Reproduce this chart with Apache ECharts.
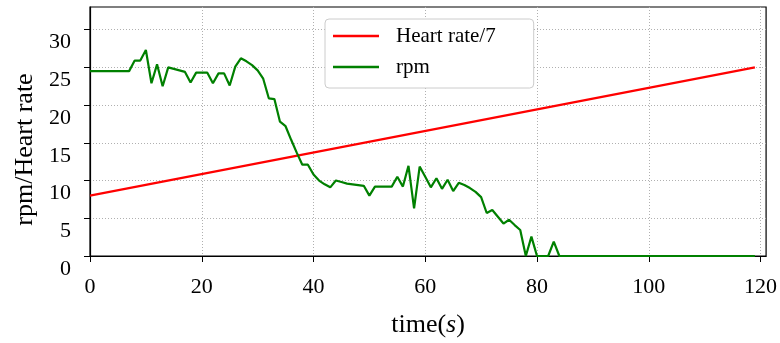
<!DOCTYPE html>
<html>
<head>
<meta charset="utf-8">
<script src="https://cdn.jsdelivr.net/npm/echarts@6/dist/echarts.min.js"></script>
<style>html,body{margin:0;padding:0;background:#fff}#c{width:780px;height:343px}</style>
</head>
<body>
<div id="c"></div>
<script>
const rpmTime = [0,1,2,3,4,5,6,7,8,9,10,11,12,13,14,15,16,17,18,19,20,21,22,23,24,25,26,27,28,29,30,31,32,33,34,35,36,37,38,39,40,41,42,43,44,45,46,47,48,49,50,51,52,53,54,55,56,57,58,59,60,61,62,63,64,65,66,67,68,69,70,71,72,73,74,75,76,77,78,79,80,81,82,83,84,119];
const rpmValues = [24.5,24.5,24.5,24.5,24.5,24.5,24.5,24.5,25.9,25.9,27.3,22.9,25.4,22.5,25.0,24.8,24.6,24.4,23.0,24.3,24.3,24.3,22.9,24.2,24.2,22.6,25.1,26.2,25.8,25.3,24.6,23.5,20.9,20.8,17.8,17.2,15.4,13.7,12.1,12.1,10.8,10.0,9.5,9.1,10.0,9.8,9.6,9.5,9.4,9.3,8.0,9.2,9.2,9.2,9.2,10.5,9.2,11.95,6.3,11.85,10.5,9.1,10.3,8.9,10.1,8.6,9.7,9.4,9.0,8.5,7.8,5.7,6.1,5.2,4.3,4.8,4.1,3.45,0,2.57,0,0,0,1.9,0,0];
const hrTime = [0,119];
const hrValues = [8,25];
const xTicks = [0,20,40,60,80,100,120];
const yTicks = [0,5,10,15,20,25,30];
const seriesNames = ['Heart rate/7','rpm'];

const FONT = '"Liberation Serif","DejaVu Serif",serif';
const chart = echarts.init(document.getElementById('c'), null, {renderer:'canvas'});
const grid = {type:[1,2], color:'#b0b0b0', width:1};
chart.setOption({
  animation:false,
  backgroundColor:'#fff',
  grid:{left:90,right:11,top:7,bottom:87,show:true,borderColor:'#000',borderWidth:1.2,backgroundColor:'transparent'},
  legend:{
    left:325, top:19, orient:'vertical',
    data:seriesNames.map(n=>({name:n,icon:'rect'})),
    itemWidth:46, itemHeight:2.5, itemGap:3,
    padding:[3,38,7,8],
    borderColor:'#cccccc', borderWidth:1, borderRadius:4, backgroundColor:'#fff',
    textStyle:{fontFamily:FONT,fontSize:21,color:'#000',lineHeight:22,padding:[6,0,0,12]}
  },
  xAxis:{
    type:'value', min:0, max:121,
    name:'{a|time(}{b|s}{a|)}', nameLocation:'middle', nameGap:56,
    nameTextStyle:{rich:{a:{fontFamily:FONT,fontSize:26,color:'#000'},b:{fontFamily:FONT,fontSize:26,fontStyle:'italic',color:'#000'}}},
    axisLine:{show:true,lineStyle:{color:'#000',width:1.2}},
    axisTick:{show:true,inside:false,length:6,lineStyle:{color:'#000'},customValues:xTicks},
    axisLabel:{fontFamily:FONT,fontSize:22,color:'#000',margin:20,customValues:xTicks},
    splitLine:{show:true,lineStyle:grid}
  },
  yAxis:{
    type:'value', min:0, max:33, interval:5,
    name:'rpm/Heart rate', nameLocation:'middle', nameGap:52,
    nameTextStyle:{fontFamily:FONT,fontSize:26,color:'#000',padding:[0,36,0,0]},
    axisLine:{show:true,lineStyle:{color:'#000',width:1.2}},
    axisTick:{show:true,inside:false,length:6,lineStyle:{color:'#000'},customValues:yTicks},
    axisLabel:{fontFamily:FONT,fontSize:22,color:'#000',margin:19,verticalAlign:'top',lineHeight:26,customValues:yTicks},
    splitLine:{show:true,lineStyle:grid}
  },
  series:[
    {name:seriesNames[0],type:'line',data:hrTime.map((t,i)=>[t,hrValues[i]]),showSymbol:false,symbol:'none',lineStyle:{color:'#ff0000',width:2.2},itemStyle:{color:'#ff0000'}},
    {name:seriesNames[1],type:'line',data:rpmTime.map((t,i)=>[t,rpmValues[i]]),showSymbol:false,symbol:'none',lineStyle:{color:'#008000',width:2.2},itemStyle:{color:'#008000'}}
  ]
});
</script>
</body>
</html>
